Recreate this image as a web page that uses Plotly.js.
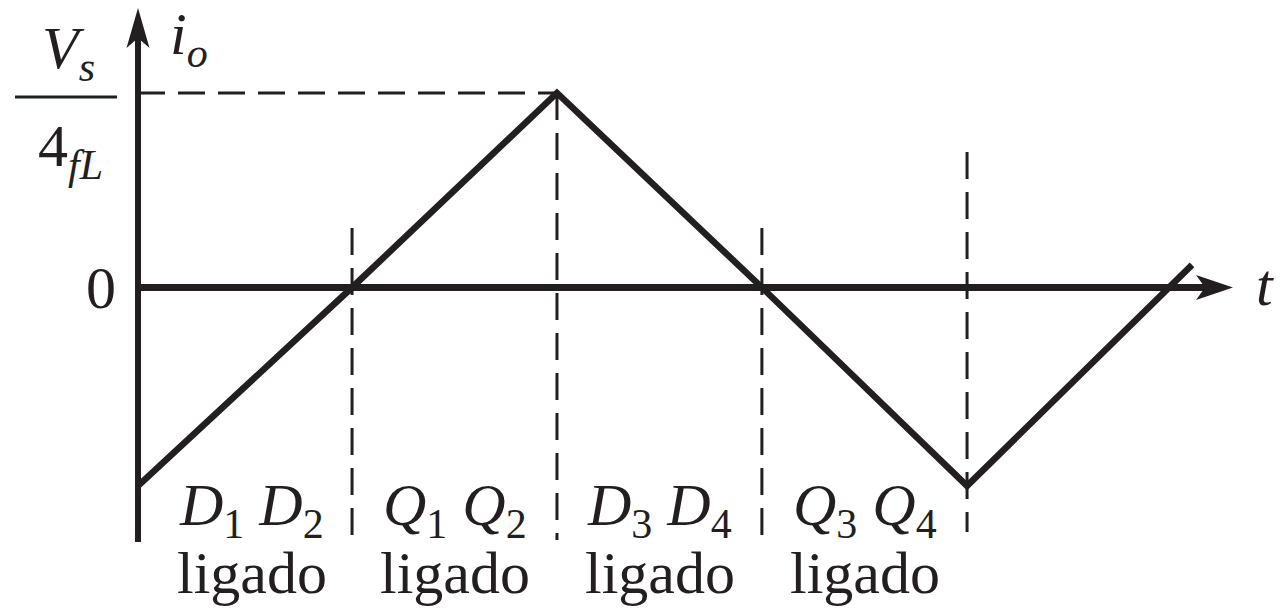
<!DOCTYPE html>
<html>
<head>
<meta charset="utf-8">
<script src="https://cdn.plot.ly/plotly-3.0.1.min.js"></script>
<style>
  html, body { margin: 0; padding: 0; background: #ffffff; overflow: hidden; }
  #chart { width: 1284px; height: 611px; }
</style>
</head>
<body>
<div id="chart"></div>
<script>
// Full-bridge inverter: load current i_o over one switching cycle.
// Time in quarter-periods, current normalised to Vs/(4fL).
const tBreaks = [0, 1.034, 2.024, 3.014, 4.005, 5.092];
const ioValues = [-1.02, 0, 1, 0, -1.02, 0.116];

// Conduction intervals shown under the time axis
const intervalDevices = [
  '<i>D</i><sub>1</sub> <i>D</i><sub>2</sub>',
  '<i>Q</i><sub>1</sub> <i>Q</i><sub>2</sub>',
  '<i>D</i><sub>3</sub> <i>D</i><sub>4</sub>',
  '<i>Q</i><sub>3</sub> <i>Q</i><sub>4</sub>'
];
const intervalState = 'ligado';
const intervalCentres = [0.55, 1.53, 2.52, 3.51];

// Axis tick labels
const zeroTick = '0';
const peakNumerator = '<i>V</i><sub><i>s</i></sub>';
const peakDenominator = '4<sub><i>fL</i></sub>';
const yAxisTitle = '<i>i</i><sub><i>o</i></sub>';
const xAxisTitle = '<i>t</i>';

// ---- drawing geometry ----
const W = 1284, H = 611;
const X0 = 138, SX = 207;      // pixel of t = 0 and pixels per unit of t
const Y0 = 287.5, SY = 194.5;  // pixel of i = 0 and pixels per unit of i
const tx = px => (px - X0) / SX;
const iy = py => (Y0 - py) / SY;

const ink = '#231f20';
const serif = 'Liberation Serif, Times New Roman, serif';
const bigFont = { family: serif, size: 60, color: ink };

const iPeak = ioValues[2];
const tPeak = tBreaks[2];

const tAxisTip = tx(1233);
const iAxisTip = iy(8);
const iAxisBottom = iy(542);

const traces = [{
  x: tBreaks,
  y: ioValues,
  type: 'scatter',
  mode: 'lines',
  line: { color: ink, width: 6.5 },
  hoverinfo: 'skip'
}];

const dashStyle = { color: ink, width: 3, dash: '27px,13px' };
const shapes = [];

// vertical guides at each interval boundary
const guideTop = [iy(228), iPeak, iy(228), iy(152)];
const guideBottom = [iy(542), iy(540), iy(540), iy(532)];
for (let k = 0; k < 4; k++) {
  shapes.push({
    type: 'line', xref: 'x', yref: 'y', layer: 'below',
    x0: tBreaks[k + 1], x1: tBreaks[k + 1],
    y0: guideTop[k], y1: guideBottom[k],
    line: dashStyle
  });
}
// horizontal guide to the peak
shapes.push({
  type: 'line', xref: 'x', yref: 'y', layer: 'below',
  x0: 0, x1: tPeak, y0: iPeak, y1: iPeak,
  line: dashStyle
});

// axes with arrowheads
shapes.push({
  type: 'line', xref: 'x', yref: 'y', layer: 'below',
  x0: 0, x1: tAxisTip - 26 / SX, y0: 0, y1: 0,
  line: { color: ink, width: 7 }
});
shapes.push({
  type: 'line', xref: 'x', yref: 'y', layer: 'below',
  x0: 0, x1: 0, y0: iAxisBottom, y1: iAxisTip - 28 / SY,
  line: { color: ink, width: 6 }
});
shapes.push({
  type: 'path', xref: 'x', yref: 'y',
  xsizemode: 'pixel', ysizemode: 'pixel',
  xanchor: tAxisTip, yanchor: 0,
  path: 'M0,0 L-37,12.5 L-28,0 L-37,-12.5 Z',
  fillcolor: ink, line: { width: 0 }
});
shapes.push({
  type: 'path', xref: 'x', yref: 'y',
  xsizemode: 'pixel', ysizemode: 'pixel',
  xanchor: 0, yanchor: iAxisTip,
  path: 'M0,0 L-11.5,-40 L0,-30 L11.5,-40 Z',
  fillcolor: ink, line: { width: 0 }
});
// fraction bar of the peak label
shapes.push({
  type: 'line', xref: 'x', yref: 'y',
  x0: tx(15), x1: tx(117), y0: iy(97), y1: iy(97),
  line: { color: ink, width: 3 }
});

const annotations = [
  { x: tx(101), y: 0, text: zeroTick },
  { x: tx(68), y: iy(52), text: peakNumerator },
  { x: tx(70), y: iy(150), text: peakDenominator },
  { x: tx(168), y: iy(38), text: yAxisTitle, xanchor: 'left' },
  { x: tx(1265), y: iy(285), text: xAxisTitle }
];
intervalDevices.forEach((txt, k) => {
  annotations.push({ x: intervalCentres[k], y: iy(509), text: txt });
  annotations.push({ x: intervalCentres[k], y: iy(573), text: intervalState });
});
annotations.forEach(a => {
  a.xref = 'x'; a.yref = 'y'; a.showarrow = false;
  a.xanchor = a.xanchor || 'center'; a.yanchor = 'middle';
  a.font = bigFont;
});

const layout = {
  width: W, height: H, autosize: false,
  margin: { l: 0, r: 0, t: 0, b: 0, pad: 0 },
  paper_bgcolor: '#ffffff', plot_bgcolor: '#ffffff',
  showlegend: false,
  xaxis: { range: [tx(0), tx(W)], visible: false, fixedrange: true },
  yaxis: { range: [iy(H), iy(0)], visible: false, fixedrange: true },
  shapes: shapes,
  annotations: annotations
};

Plotly.newPlot('chart', traces, layout, { staticPlot: true, displayModeBar: false });
</script>
</body>
</html>
